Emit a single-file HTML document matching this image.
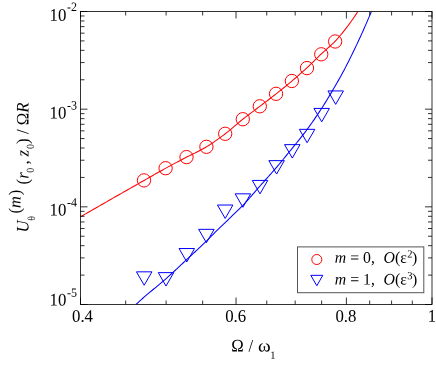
<!DOCTYPE html>
<html><head><meta charset="utf-8"><title>chart</title>
<style>
html,body{margin:0;padding:0;background:#fff;}
svg{display:block;will-change:transform;}
text{font-family:"Liberation Serif",serif;fill:#000;}
.i{font-style:italic;}
</style></head><body>
<svg width="436" height="367" viewBox="0 0 436 367">
<rect width="436" height="367" fill="#fff"/>
<defs><clipPath id="c"><rect x="80.5" y="11.5" width="351.5" height="293.0"/></clipPath></defs>

<g clip-path="url(#c)" fill="none" stroke-width="1.05">
<path d="M80.50,216.80 L81.89,216.00 L83.28,215.19 L84.68,214.39 L86.07,213.59 L87.46,212.79 L88.85,211.99 L90.25,211.18 L91.64,210.38 L93.03,209.58 L94.42,208.78 L95.81,207.98 L97.21,207.18 L98.60,206.39 L99.99,205.59 L101.38,204.79 L102.78,203.99 L104.17,203.19 L105.56,202.40 L106.95,201.60 L108.34,200.80 L109.74,200.01 L111.13,199.21 L112.52,198.41 L113.91,197.62 L115.31,196.82 L116.70,196.03 L118.09,195.23 L119.48,194.44 L120.87,193.64 L122.27,192.85 L123.66,192.06 L125.05,191.26 L126.44,190.47 L127.84,189.68 L129.23,188.88 L130.62,188.09 L132.01,187.30 L133.40,186.51 L134.80,185.72 L136.19,184.92 L137.58,184.13 L138.97,183.34 L140.37,182.55 L141.76,181.76 L143.15,180.97 L144.54,180.18 L145.93,179.39 L147.33,178.59 L148.72,177.80 L150.11,177.00 L151.50,176.21 L152.89,175.42 L154.29,174.62 L155.68,173.83 L157.07,173.04 L158.46,172.26 L159.86,171.47 L161.25,170.70 L162.64,169.92 L164.03,169.15 L165.42,168.39 L166.82,167.63 L168.21,166.87 L169.60,166.12 L170.99,165.37 L172.39,164.63 L173.78,163.89 L175.17,163.15 L176.56,162.41 L177.95,161.68 L179.35,160.95 L180.74,160.22 L182.13,159.48 L183.52,158.75 L184.92,158.03 L186.31,157.30 L187.70,156.57 L189.09,155.87 L190.48,155.17 L191.88,154.48 L193.27,153.79 L194.66,153.11 L196.05,152.42 L197.45,151.72 L198.84,151.02 L200.23,150.30 L201.62,149.57 L203.01,148.82 L204.41,148.04 L205.80,147.24 L207.19,146.41 L208.58,145.55 L209.98,144.67 L211.37,143.76 L212.76,142.83 L214.15,141.89 L215.54,140.92 L216.94,139.94 L218.33,138.94 L219.72,137.93 L221.11,136.91 L222.51,135.87 L223.90,134.83 L225.29,133.78 L226.68,132.70 L228.07,131.59 L229.47,130.45 L230.86,129.29 L232.25,128.11 L233.64,126.92 L235.04,125.72 L236.43,124.53 L237.82,123.34 L239.21,122.17 L240.60,121.01 L242.00,119.88 L243.39,118.78 L244.78,117.69 L246.17,116.62 L247.57,115.55 L248.96,114.50 L250.35,113.45 L251.74,112.41 L253.13,111.36 L254.53,110.32 L255.92,109.28 L257.31,108.23 L258.70,107.18 L260.10,106.12 L261.49,105.06 L262.88,104.01 L264.27,102.95 L265.66,101.89 L267.06,100.83 L268.45,99.77 L269.84,98.71 L271.23,97.64 L272.63,96.57 L274.02,95.49 L275.41,94.40 L276.80,93.30 L278.19,92.21 L279.59,91.10 L280.98,89.99 L282.37,88.88 L283.76,87.76 L285.16,86.64 L286.55,85.51 L287.94,84.37 L289.33,83.22 L290.72,82.06 L292.12,80.89 L293.51,79.71 L294.90,78.52 L296.29,77.32 L297.68,76.11 L299.08,74.90 L300.47,73.67 L301.86,72.43 L303.25,71.18 L304.65,69.92 L306.04,68.65 L307.43,67.37 L308.82,66.06 L310.21,64.73 L311.61,63.38 L313.00,62.02 L314.39,60.66 L315.78,59.29 L317.18,57.93 L318.57,56.57 L319.96,55.23 L321.35,53.92 L322.74,52.64 L324.14,51.39 L325.53,50.17 L326.92,48.96 L328.31,47.73 L329.71,46.49 L331.10,45.22 L332.49,43.90 L333.88,42.51 L335.27,41.05 L336.67,39.54 L338.06,37.99 L339.45,36.40 L340.84,34.76 L342.24,33.09 L343.63,31.37 L345.02,29.62 L346.41,27.82 L347.80,25.99 L349.20,24.11 L350.59,22.19 L351.98,20.23 L353.37,18.24 L354.77,16.20 L356.16,14.12 L357.55,12.00" stroke="#ff0000"/>
<path d="M136.00,304.50 L137.18,303.39 L138.37,302.27 L139.55,301.17 L140.73,300.09 L141.91,299.03 L143.10,297.99 L144.28,296.96 L145.46,295.94 L146.65,294.93 L147.83,293.93 L149.01,292.94 L150.19,291.96 L151.38,290.98 L152.56,290.00 L153.74,289.03 L154.93,288.05 L156.11,287.08 L157.29,286.10 L158.48,285.12 L159.66,284.13 L160.84,283.14 L162.02,282.14 L163.21,281.13 L164.39,280.11 L165.57,279.08 L166.76,278.03 L167.94,276.98 L169.12,275.91 L170.30,274.84 L171.49,273.76 L172.67,272.68 L173.85,271.59 L175.04,270.49 L176.22,269.39 L177.40,268.29 L178.58,267.19 L179.77,266.08 L180.95,264.97 L182.13,263.86 L183.32,262.75 L184.50,261.65 L185.68,260.54 L186.87,259.44 L188.05,258.34 L189.23,257.24 L190.41,256.15 L191.60,255.05 L192.78,253.96 L193.96,252.86 L195.15,251.76 L196.33,250.66 L197.51,249.56 L198.69,248.45 L199.88,247.34 L201.06,246.23 L202.24,245.10 L203.43,243.97 L204.61,242.84 L205.79,241.69 L206.97,240.53 L208.16,239.36 L209.34,238.16 L210.52,236.95 L211.71,235.74 L212.89,234.53 L214.07,233.32 L215.26,232.14 L216.44,230.97 L217.62,229.82 L218.80,228.69 L219.99,227.57 L221.17,226.45 L222.35,225.33 L223.54,224.20 L224.72,223.07 L225.90,221.92 L227.08,220.77 L228.27,219.62 L229.45,218.46 L230.63,217.30 L231.82,216.14 L233.00,214.98 L234.18,213.82 L235.36,212.68 L236.55,211.54 L237.73,210.41 L238.91,209.27 L240.10,208.12 L241.28,206.95 L242.46,205.75 L243.65,204.52 L244.83,203.26 L246.01,201.97 L247.19,200.67 L248.38,199.34 L249.56,198.01 L250.74,196.65 L251.93,195.29 L253.11,193.93 L254.29,192.56 L255.47,191.19 L256.66,189.82 L257.84,188.46 L259.02,187.11 L260.21,185.77 L261.39,184.43 L262.57,183.11 L263.75,181.78 L264.94,180.46 L266.12,179.14 L267.30,177.82 L268.49,176.49 L269.67,175.16 L270.85,173.83 L272.04,172.49 L273.22,171.14 L274.40,169.79 L275.58,168.42 L276.77,167.04 L277.95,165.65 L279.13,164.24 L280.32,162.83 L281.50,161.41 L282.68,159.98 L283.86,158.54 L285.05,157.09 L286.23,155.64 L287.41,154.19 L288.60,152.73 L289.78,151.27 L290.96,149.81 L292.14,148.34 L293.33,146.88 L294.51,145.42 L295.69,143.96 L296.88,142.51 L298.06,141.05 L299.24,139.58 L300.43,138.11 L301.61,136.62 L302.79,135.12 L303.97,133.60 L305.16,132.06 L306.34,130.49 L307.52,128.89 L308.71,127.28 L309.89,125.64 L311.07,123.98 L312.25,122.31 L313.44,120.62 L314.62,118.90 L315.80,117.17 L316.99,115.42 L318.17,113.65 L319.35,111.87 L320.53,110.07 L321.72,108.25 L322.90,106.41 L324.08,104.54 L325.27,102.65 L326.45,100.74 L327.63,98.80 L328.82,96.85 L330.00,94.87 L331.18,92.88 L332.36,90.87 L333.55,88.84 L334.73,86.80 L335.91,84.75 L337.10,82.69 L338.28,80.62 L339.46,78.53 L340.64,76.42 L341.83,74.28 L343.01,72.11 L344.19,69.89 L345.38,67.63 L346.56,65.32 L347.74,63.00 L348.92,60.65 L350.11,58.28 L351.29,55.89 L352.47,53.48 L353.66,51.05 L354.84,48.60 L356.02,46.12 L357.21,43.61 L358.39,41.09 L359.57,38.53 L360.75,35.96 L361.94,33.35 L363.12,30.72 L364.30,28.06 L365.49,25.37 L366.67,22.66 L367.85,19.91 L369.03,17.14 L370.22,14.34 L371.40,11.50" stroke="#0000ff"/>
</g>
<g fill="none" stroke="#ff0000" stroke-width="1.0">
<circle cx="144.00" cy="180.40" r="6.65"/>
<circle cx="165.60" cy="168.20" r="6.65"/>
<circle cx="186.50" cy="157.10" r="6.65"/>
<circle cx="206.40" cy="146.80" r="6.65"/>
<circle cx="225.20" cy="133.80" r="6.65"/>
<circle cx="242.80" cy="119.20" r="6.65"/>
<circle cx="259.80" cy="106.30" r="6.65"/>
<circle cx="276.05" cy="93.80" r="6.65"/>
<circle cx="291.85" cy="81.00" r="6.65"/>
<circle cx="306.95" cy="68.10" r="6.65"/>
<circle cx="321.25" cy="54.30" r="6.65"/>
<circle cx="335.15" cy="41.50" r="6.65"/>
</g>
<g fill="none" stroke="#0000ff" stroke-width="1.0" stroke-linejoin="miter">
<path d="M136.45,271.83 L151.95,271.83 L144.20,285.25 Z"/>
<path d="M158.25,272.63 L173.75,272.63 L166.00,286.05 Z"/>
<path d="M179.05,248.53 L194.55,248.53 L186.80,261.95 Z"/>
<path d="M198.65,229.33 L214.15,229.33 L206.40,242.75 Z"/>
<path d="M217.45,205.03 L232.95,205.03 L225.20,218.45 Z"/>
<path d="M235.15,193.83 L250.65,193.83 L242.90,207.25 Z"/>
<path d="M252.25,180.43 L267.75,180.43 L260.00,193.85 Z"/>
<path d="M268.85,160.63 L284.35,160.63 L276.60,174.05 Z"/>
<path d="M284.55,144.63 L300.05,144.63 L292.30,158.05 Z"/>
<path d="M299.35,129.33 L314.85,129.33 L307.10,142.75 Z"/>
<path d="M313.95,108.43 L329.45,108.43 L321.70,121.85 Z"/>
<path d="M327.95,90.93 L343.45,90.93 L335.70,104.35 Z"/>
</g>
<g stroke="#000" stroke-width="0.8" fill="none">
<rect x="80.5" y="11.5" width="351.5" height="293.0"/>
<path d="M80.50,304.5 v-7 M80.50,11.5 v7 M125.68,304.5 v-4 M125.68,11.5 v4 M166.10,304.5 v-4 M166.10,11.5 v4 M202.66,304.5 v-4 M202.66,11.5 v4 M236.04,304.5 v-7 M236.04,11.5 v7 M266.75,304.5 v-4 M266.75,11.5 v4 M295.18,304.5 v-4 M295.18,11.5 v4 M321.64,304.5 v-4 M321.64,11.5 v4 M346.40,304.5 v-7 M346.40,11.5 v7 M369.66,304.5 v-4 M369.66,11.5 v4 M391.58,304.5 v-4 M391.58,11.5 v4 M412.32,304.5 v-4 M412.32,11.5 v4 M432.00,304.5 v-7 M432.00,11.5 v7 M80.5,304.50 h7 M432.0,304.50 h-7 M80.5,275.10 h4 M432.0,275.10 h-4 M80.5,257.90 h4 M432.0,257.90 h-4 M80.5,245.70 h4 M432.0,245.70 h-4 M80.5,236.23 h4 M432.0,236.23 h-4 M80.5,228.50 h4 M432.0,228.50 h-4 M80.5,221.96 h4 M432.0,221.96 h-4 M80.5,216.30 h4 M432.0,216.30 h-4 M80.5,211.30 h4 M432.0,211.30 h-4 M80.5,206.83 h7 M432.0,206.83 h-7 M80.5,177.43 h4 M432.0,177.43 h-4 M80.5,160.23 h4 M432.0,160.23 h-4 M80.5,148.03 h4 M432.0,148.03 h-4 M80.5,138.57 h4 M432.0,138.57 h-4 M80.5,130.83 h4 M432.0,130.83 h-4 M80.5,124.30 h4 M432.0,124.30 h-4 M80.5,118.63 h4 M432.0,118.63 h-4 M80.5,113.64 h4 M432.0,113.64 h-4 M80.5,109.17 h7 M432.0,109.17 h-7 M80.5,79.77 h4 M432.0,79.77 h-4 M80.5,62.57 h4 M432.0,62.57 h-4 M80.5,50.37 h4 M432.0,50.37 h-4 M80.5,40.90 h4 M432.0,40.90 h-4 M80.5,33.17 h4 M432.0,33.17 h-4 M80.5,26.63 h4 M432.0,26.63 h-4 M80.5,20.96 h4 M432.0,20.96 h-4 M80.5,15.97 h4 M432.0,15.97 h-4 M80.5,11.50 h7 M432.0,11.50 h-7 M80.5,-17.90 h4 M432.0,-17.90 h-4 M80.5,-35.10 h4 M432.0,-35.10 h-4 M80.5,-47.30 h4 M432.0,-47.30 h-4 M80.5,-56.77 h4 M432.0,-56.77 h-4 M80.5,-64.50 h4 M432.0,-64.50 h-4 M80.5,-71.04 h4 M432.0,-71.04 h-4 M80.5,-76.70 h4 M432.0,-76.70 h-4 M80.5,-81.70 h4 M432.0,-81.70 h-4"/>
</g>
<text transform="translate(66.3,20.8) rotate(0.03) scale(1,1.05)" font-size="16.8" text-anchor="end">10</text>
<text transform="translate(67.0,11.100000000000001) rotate(0.03) scale(1,1.06)" font-size="12">-2</text>
<text transform="translate(66.3,118.5) rotate(0.03) scale(1,1.05)" font-size="16.8" text-anchor="end">10</text>
<text transform="translate(67.0,109.4) rotate(0.03) scale(1,1.06)" font-size="12">-3</text>
<text transform="translate(66.3,215.6) rotate(0.03) scale(1,1.05)" font-size="16.8" text-anchor="end">10</text>
<text transform="translate(67.0,206.6) rotate(0.03) scale(1,1.06)" font-size="12">-4</text>
<text transform="translate(66.3,305.4) rotate(0.03) scale(1,1.05)" font-size="16.8" text-anchor="end">10</text>
<text transform="translate(67.0,296.7) rotate(0.03) scale(1,1.06)" font-size="12">-5</text>
<text transform="translate(82.5,321.8) rotate(0.03) scale(1,1.05)" font-size="16.8" text-anchor="middle">0.4</text>
<text transform="translate(235.7,321.8) rotate(0.03) scale(1,1.05)" font-size="16.8" text-anchor="middle">0.6</text>
<text transform="translate(345.9,321.8) rotate(0.03) scale(1,1.05)" font-size="16.8" text-anchor="middle">0.8</text>
<text transform="translate(432.0,321.8) rotate(0.03) scale(1,1.05)" font-size="16.8" text-anchor="middle">1</text>
<text transform="translate(231.3,351.5) rotate(0.03) scale(1,1.05)" font-size="16.8">Ω</text>
<text transform="translate(248.6,351.5) rotate(0.03) scale(1,1.05)" font-size="16.8">/</text>
<text transform="translate(257.9,351.5) rotate(0.03) scale(1.15,1.05)" font-size="16.8">ω</text>
<text transform="translate(270.3,358.7) rotate(0.03) scale(1,1.06)" font-size="10.5">1</text>
<g transform="translate(28.6,232.4) rotate(-90)">
<text transform="translate(0,0) rotate(0.03) scale(1,1.05)" font-size="16.8" class="i">U</text>
<text transform="translate(11.7,6.5) rotate(0.03) scale(1,1.06)" font-size="10">θ</text>
<text transform="translate(19,-8) rotate(0.03) scale(1,1.05)" font-size="16.3">(<tspan class="i">m</tspan></text>
<text transform="translate(37.1,-8) rotate(0.03) scale(1,1.05)" font-size="16.3">)</text>
<text transform="translate(48,0) rotate(0.03) scale(1,1.05)" font-size="16.8">(<tspan class="i">r</tspan></text>
<text transform="translate(59.6,5.2) rotate(0.03) scale(1,1.06)" font-size="10">0</text>
<text transform="translate(68,0) rotate(0.03) scale(1,1.05)" font-size="16.8">,</text>
<text transform="translate(75.9,0) rotate(0.03) scale(1,1.05)" font-size="16.8" class="i">z</text>
<text transform="translate(83.3,5.2) rotate(0.03) scale(1,1.06)" font-size="10">0</text>
<text transform="translate(88.5,0) rotate(0.03) scale(1,1.05)" font-size="16.8">) / Ω<tspan class="i">R</tspan></text>
</g>
<rect x="297.5" y="246.9" width="126.3" height="45.8" fill="#fff" stroke="#555" stroke-width="1"/>
<circle cx="316.8" cy="259.5" r="5" fill="none" stroke="#ff0000" stroke-width="1.0"/>
<path d="M310.80,275.34 L322.80,275.34 L316.80,285.73 Z" fill="none" stroke="#0000ff" stroke-width="1.0"/>
<text transform="translate(334.8,262.7) rotate(0.03) scale(1,1.02)" font-size="15.8"><tspan class="i">m</tspan> = 0,</text>
<text transform="translate(383.5,262.7) rotate(0.03) scale(1,1.02)" font-size="15.8"><tspan class="i">O</tspan>(ε</text>
<text transform="translate(407.3,257.4) rotate(0.03) scale(1,1.06)" font-size="10.5">2</text>
<text transform="translate(412.1,262.7) rotate(0.03) scale(1,1.02)" font-size="15.8">)</text>
<text transform="translate(334.8,284.5) rotate(0.03) scale(1,1.02)" font-size="15.8"><tspan class="i">m</tspan> = 1,</text>
<text transform="translate(383.5,284.5) rotate(0.03) scale(1,1.02)" font-size="15.8"><tspan class="i">O</tspan>(ε</text>
<text transform="translate(407.3,279.2) rotate(0.03) scale(1,1.06)" font-size="10.5">3</text>
<text transform="translate(412.1,284.5) rotate(0.03) scale(1,1.02)" font-size="15.8">)</text>
</svg></body></html>
